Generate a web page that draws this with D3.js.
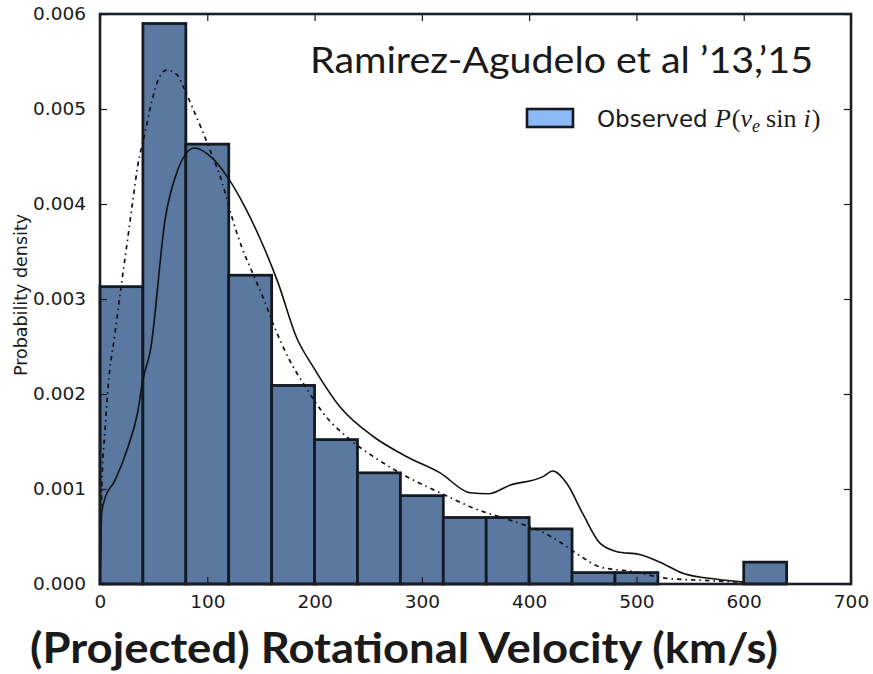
<!DOCTYPE html>
<html>
<head>
<meta charset="utf-8">
<script src="https://cdn.jsdelivr.net/npm/d3@7"></script>
<style>
  body { margin: 0; background: #fff; }
  text { fill: #1a1a1a; }
</style>
</head>
<body>
<div id="chart"></div>
<script>
// histogram bins (km/s), density per bin
var binEdges = [0, 40, 80, 120, 160, 200, 240, 280, 320, 360, 400, 440, 480, 520, 560, 600, 640];
var binDensity = [0.00313, 0.0059, 0.00463, 0.00325, 0.00209, 0.00152, 0.00117, 0.00093,
                  0.0007, 0.0007, 0.00058, 0.00012, 0.00012, 0, 0, 0.00023];

// solid curve (velocity, density x1e-3)
var solidV = [0, 0.8, 1.5, 4, 14, 26, 35, 40, 47, 61, 70, 88, 104, 119, 135, 151, 166, 183, 199,
              224, 255, 286, 317, 345, 362, 382, 413, 422, 435, 450, 466, 482, 503, 522, 544, 575, 600];
var solidD = [0, 0.4, 0.74, 0.88, 1.09, 1.44, 1.8, 2.15, 2.46, 3.86, 4.28, 4.59, 4.49, 4.28, 3.97,
              3.59, 3.17, 2.6, 2.28, 1.86, 1.55, 1.34, 1.17, 0.96, 0.95, 1.04, 1.13, 1.19, 1.06,
              0.74, 0.43, 0.34, 0.31, 0.23, 0.11, 0.05, 0.02];

// dash-dot curve (velocity, density x1e-3)
var dashV = [0, 1, 2, 4.7, 7.5, 14, 20.5, 26, 31, 35, 42, 48.5, 54, 62, 72, 77, 86, 95, 102.5, 114,
             123, 132, 142, 154, 161, 177, 193, 208, 233, 255, 286, 317, 348, 388, 410, 429, 447,
             466, 497, 528, 559, 596];
var dashD = [0, 0.67, 1.13, 1.62, 2.07, 2.64, 3.2, 3.65, 4.07, 4.39, 4.75, 5.09, 5.3, 5.41, 5.36,
             5.25, 5.02, 4.78, 4.57, 4.22, 3.86, 3.55, 3.28, 2.96, 2.75, 2.35, 2.05, 1.8, 1.52,
             1.34, 1.13, 0.96, 0.8, 0.65, 0.56, 0.44, 0.3, 0.18, 0.13, 0.06, 0.04, 0.02];

var xTicks = [0, 100, 200, 300, 400, 500, 600, 700];
var yTicks = [0, 0.001, 0.002, 0.003, 0.004, 0.005, 0.006];

var W = 873, H = 674;
var plotL = 100, plotR = 851, plotT = 14, plotB = 584;

var svg = d3.select("#chart").append("svg")
    .attr("width", W)
    .attr("height", H);

var x = d3.scaleLinear().domain([0, 700]).range([plotL, plotR]);
var y = d3.scaleLinear().domain([0, 0.006]).range([plotB, plotT]);

var bins = binDensity.map(function(d, i) {
  return { x0: binEdges[i], x1: binEdges[i + 1], value: d };
});

// bars
svg.append("g").selectAll("rect")
    .data(bins.filter(function(d) { return d.value > 0; }))
  .enter().append("rect")
    .attr("x", function(d) { return x(d.x0); })
    .attr("width", function(d) { return x(d.x1) - x(d.x0); })
    .attr("y", function(d) { return y(d.value); })
    .attr("height", function(d) { return y(0) - y(d.value); })
    .attr("fill", "#5b78a0")
    .attr("stroke", "#131a24")
    .attr("stroke-width", 2.8);

var line = d3.line()
    .curve(d3.curveMonotoneX)
    .x(function(d) { return x(d[0]); })
    .y(function(d) { return y(d[1] / 1000); });

svg.append("path")
    .datum(dashV.map(function(v, i) { return [v, dashD[i]]; }))
    .attr("fill", "none")
    .attr("stroke", "#111")
    .attr("stroke-width", 1.7)
    .attr("stroke-dasharray", "4.5,4,1.5,4")
    .attr("d", line);

svg.append("path")
    .datum(solidV.map(function(v, i) { return [v, solidD[i]]; }))
    .attr("fill", "none")
    .attr("stroke", "#111")
    .attr("stroke-width", 1.6)
    .attr("d", line);

// axes: inward ticks on all four sides
var tickFont = "DejaVu Sans, sans-serif";

var xAxis = d3.axisBottom(x).tickValues(xTicks).tickSize(-7).tickPadding(16).tickFormat(d3.format("d"));
var gx = svg.append("g").attr("transform", "translate(0," + plotB + ")").call(xAxis);
var xTop = d3.axisTop(x).tickValues(xTicks).tickSize(-7).tickFormat("");
var gxt = svg.append("g").attr("transform", "translate(0," + plotT + ")").call(xTop);

var yAxis = d3.axisLeft(y).tickValues(yTicks).tickSize(-7).tickPadding(14).tickFormat(d3.format(".3f"));
var gy = svg.append("g").attr("transform", "translate(" + plotL + ",0)").call(yAxis);
var yRight = d3.axisRight(y).tickValues(yTicks).tickSize(-7).tickFormat("");
var gyr = svg.append("g").attr("transform", "translate(" + plotR + ",0)").call(yRight);

[gx, gxt, gy, gyr].forEach(function(g) {
  g.select(".domain").remove();
  g.selectAll(".tick line").attr("stroke", "#1a1a1a").attr("stroke-width", 1.2);
  g.selectAll("text")
      .attr("font-family", tickFont)
      .attr("font-size", 18.5)
      .attr("fill", "#1a1a1a");
});
gx.selectAll("text").attr("dy", "0.45em");

// frame
svg.append("rect")
    .attr("x", plotL).attr("y", plotT)
    .attr("width", plotR - plotL).attr("height", plotB - plotT)
    .attr("fill", "none")
    .attr("stroke", "#1a1f26")
    .attr("stroke-width", 2.6);

// y label
svg.append("text")
    .attr("transform", "translate(27,295) rotate(-90)")
    .attr("text-anchor", "middle")
    .attr("font-family", tickFont)
    .attr("font-size", 17.5)
    .text("Probability density");

// legend
svg.append("rect")
    .attr("x", 527).attr("y", 109)
    .attr("width", 46).attr("height", 18)
    .attr("fill", "#8bbaf6")
    .attr("stroke", "#131a24")
    .attr("stroke-width", 2.6);

var lt = svg.append("text")
    .attr("x", 597).attr("y", 127)
    .attr("font-family", tickFont)
    .attr("font-size", 23);
lt.append("tspan").text("Observed ");
var math = "Liberation Serif, DejaVu Serif, serif";
lt.append("tspan").attr("font-family", math).attr("font-style", "italic").attr("font-size", 26).text("P");
lt.append("tspan").attr("font-family", math).attr("font-size", 26).attr("dx", 1).text("(");
lt.append("tspan").attr("font-family", math).attr("font-style", "italic").attr("font-size", 26).text("v");
lt.append("tspan").attr("font-family", math).attr("font-style", "italic").attr("font-size", 18).attr("dy", 5).text("e");
lt.append("tspan").attr("font-family", math).attr("font-size", 26).attr("dy", -5).attr("dx", 6).text("sin");
lt.append("tspan").attr("font-family", math).attr("font-style", "italic").attr("font-size", 26).attr("dx", 7).text("i");
lt.append("tspan").attr("font-family", math).attr("font-size", 26).attr("dx", 1).text(")");

// annotation title
svg.append("text")
    .attr("x", 310).attr("y", 73)
    .attr("font-family", "Lato, Open Sans, sans-serif")
    .attr("font-size", 37)
    .attr("textLength", 503)
    .attr("lengthAdjust", "spacingAndGlyphs")
    .attr("fill", "#000")
    .text("Ramirez-Agudelo et al \u201913,\u201915");

// x label
svg.append("text")
    .attr("x", 30).attr("y", 663)
    .attr("font-family", "Lato, Open Sans, sans-serif")
    .attr("font-weight", "bold")
    .attr("font-size", 42)
    .attr("textLength", 748)
    .attr("lengthAdjust", "spacingAndGlyphs")
    .attr("fill", "#000")
    .text("(Projected) Rotational Velocity (km/s)");
</script>
</body>
</html>
